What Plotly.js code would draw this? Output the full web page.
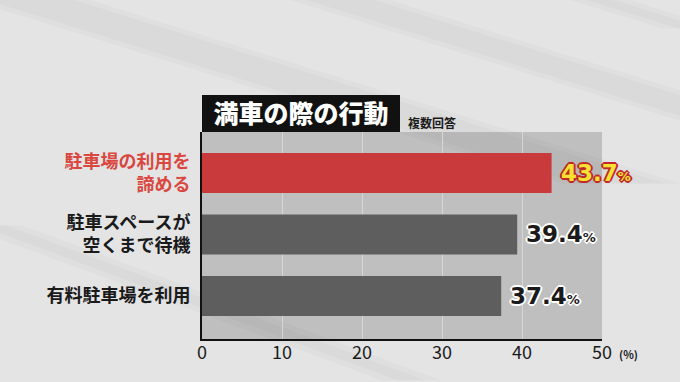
<!DOCTYPE html>
<html>
<head>
<meta charset="utf-8">
<script src="https://cdn.plot.ly/plotly-3.0.1.min.js"></script>
<style>html,body{margin:0;padding:0;background:#e4e4e5;}#chart{width:680px;height:382px;}</style>
</head>
<body>
<div id="chart"></div>
<script>
const categories = ["駐車場の利用を<br>諦める", "駐車スペースが<br>空くまで待機", "有料駐車場を利用"];
const values = [43.7, 39.4, 37.4];
const xTicks = [0, 10, 20, 30, 40, 50];
const titleText = "満車の際の行動";
const noteText = "複数回答";
const unitText = "(%)";

const barColors = ["#c83a3b", "#5e5e5e", "#5e5e5e"];
const labelColors = ["#d9473f", "#1a1a1a", "#1a1a1a"];
const valueFill = ["#f7e233", "#1a1a1a", "#1a1a1a"];
const valueOutline = ["#c0282a", "#ffffff", "#ffffff"];

const idx = categories.map((c, i) => i);
const ticktext = categories.map((c, i) => `<span style="color:${labelColors[i]}">${c}</span>`);

function outline(col) {
  const o = [];
  for (const [dx, dy] of [[1,0],[-1,0],[0,1],[0,-1],[1,1],[-1,-1],[1,-1],[-1,1],[2,0],[-2,0],[0,2],[0,-2]]) {
    o.push(`${dx}px ${dy}px 0 ${col}`);
  }
  return o.join(", ");
}

const valueAnns = values.map((v, i) => ({
  x: v, y: i, xref: "x", yref: "y", xanchor: "left", yanchor: "middle",
  xshift: 7, showarrow: false,
  text: `${v.toFixed(1)}<span style="font-size:13px">%</span>`,
  font: {family: "'DejaVu Sans', sans-serif", size: 23, weight: 700, color: valueFill[i], shadow: outline(valueOutline[i])}
}));

// decorative background bands (soft)
const bands = [
  [[-0.6, 1.65], [-0.3, 1.65], [1.2, 0.75], [0.9, 0.75]],
  [[0.2, 1.65], [0.45, 1.65], [1.7, 0.9], [1.45, 0.9]],
  [[-0.6, 0.55], [-0.45, 0.55], [0.6, -0.2], [0.45, -0.2]],
  [[0.9, 1.65], [1.05, 1.65], [1.3, 1.5], [1.15, 1.5]]
];
const shapes = [];
bands.forEach(b => {
  [0, 0.04].forEach(inset => {
    const p = [[b[0][0] + inset, b[0][1]], [b[1][0] - inset, b[1][1]], [b[2][0] - inset, b[2][1]], [b[3][0] + inset, b[3][1]]];
    shapes.push({
      type: "path", xref: "paper", yref: "paper", layer: "below",
      path: "M" + p.map(q => q[0] + "," + q[1]).join(" L") + " Z",
      fillcolor: "rgba(0,0,0,0.018)", line: {width: 0}
    });
  });
});
shapes.push({
  type: "rect", xref: "paper", yref: "paper", layer: "above",
  x0: 0, x1: 0.495, y0: 1, y1: 1.179,
  fillcolor: "#111111", line: {width: 0}
});

const data = [{
  type: "bar", orientation: "h",
  y: idx, x: values,
  width: 0.65,
  marker: {color: barColors, line: {width: 0}},
  hoverinfo: "none"
}];

const layout = {
  width: 680, height: 382,
  margin: {l: 202, r: 78, t: 132, b: 43, pad: 0},
  paper_bgcolor: "#e4e4e5",
  plot_bgcolor: "#bfbfbf",
  showlegend: false,
  title: {
    text: titleText, xref: "paper", x: 0.2475, xanchor: "center",
    yref: "container", y: 1 - 114/382, yanchor: "middle",
    font: {family: "'Noto Sans CJK JP', sans-serif", size: 25, weight: 900, color: "#ffffff"}
  },
  xaxis: {
    range: [0, 50], tickvals: xTicks, ticktext: xTicks.map(String),
    showgrid: true, gridcolor: "#d6d6d6", gridwidth: 1,
    zeroline: false, showline: true, linecolor: "#111111", linewidth: 2,
    ticks: "", ticklabelstandoff: -4,
    tickfont: {family: "'Noto Sans CJK JP', sans-serif", size: 18, color: "#1a1a1a"},
    fixedrange: true
  },
  yaxis: {
    range: [2.70, -0.667], tickvals: idx, ticktext: ticktext,
    showgrid: false, zeroline: false,
    showline: true, linecolor: "#111111", linewidth: 2,
    ticks: "", ticklabelstandoff: 6,
    tickfont: {family: "'Noto Sans CJK JP', sans-serif", size: 18, weight: 700, color: "#1a1a1a"},
    fixedrange: true
  },
  shapes: shapes,
  annotations: valueAnns.concat([
    {xref: "paper", yref: "paper", x: 0.51, y: 1.048, xanchor: "left", yanchor: "middle",
     showarrow: false, text: noteText,
     font: {family: "'Noto Sans CJK JP', sans-serif", size: 12, weight: 700, color: "#1a1a1a"}},
    {xref: "paper", yref: "paper", x: 1.037, y: -0.072, xanchor: "left", yanchor: "middle",
     showarrow: false, text: unitText,
     font: {family: "'Noto Sans CJK JP', sans-serif", size: 11, weight: 700, color: "#1a1a1a"}}
  ])
};

Plotly.newPlot("chart", data, layout, {staticPlot: true, displayModeBar: false});
</script>
</body>
</html>
